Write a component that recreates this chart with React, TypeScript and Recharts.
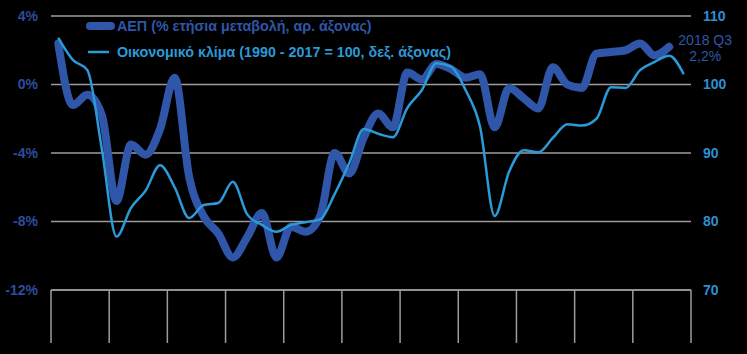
import React from 'react';
import { LineChart, Line, XAxis, YAxis, CartesianGrid, Legend, LabelList } from 'recharts';

const years = ['2008', '2009', '2010', '2011', '2012', '2013', '2014', '2015', '2016', '2017', '2018'];
const quarterNames = ['Q1', 'Q2', 'Q3', 'Q4'];
const quarters = years.flatMap((y) => quarterNames.map((q) => `${y} ${q}`));

// ΑΕΠ, % ετήσια μεταβολή (left axis), 2008 Q1 – 2018 Q3
const gdpValues = [
  2.4, -1.2, -0.6, -1.8,
  -6.8, -3.5, -4.1, -2.6,
  0.4, -5.4, -7.7, -8.7,
  -10.1, -8.9, -7.5, -10.1,
  -8.3, -8.6, -7.7, -4.0,
  -5.2, -3.1, -1.7, -2.5,
  0.7, 0.3, 1.2, 0.9,
  0.4, 0.6, -2.5, -0.2,
  -0.8, -1.4, 1.0, 0.0,
  -0.2, 1.8, 1.9, 2.0,
  2.4, 1.7, 2.2,
];

// Οικονομικό κλίμα (right axis), 2008 Q1 – 2018 Q4
const climateValues = [
  106.8, 103.6, 102.1, 90.5,
  77.8, 82.0, 84.5, 88.2,
  85.0, 80.5, 82.4, 82.7,
  85.8, 81.0, 79.5, 78.5,
  79.5, 79.9, 80.3, 84.0,
  88.5, 93.5, 92.8, 92.3,
  96.6, 99.2, 103.1, 102.6,
  99.2, 93.8, 80.8, 87.3,
  90.4, 90.1, 92.2, 94.2,
  94.0, 95.0, 99.6, 99.5,
  102.1, 103.3, 104.2, 101.5,
];

const leftTicks = [-12, -8, -4, 0, 4];
const rightTicks = [70, 80, 90, 100, 110];
const gdpName = 'ΑΕΠ (% ετήσια μεταβολή, αρ. άξονας)';
const climateName = 'Οικονομικό κλίμα (1990 - 2017 = 100, δεξ. άξονας)';
const annotationLines = ['2018 Q3', '2,2%'];

const data = quarters.map((q, i) => ({
  idx: i,
  quarter: q,
  gdp: i < gdpValues.length ? gdpValues[i] : null,
  climate: climateValues[i],
}));

const yearBoundaries = [...years.map((_, k) => k * 4 - 0.5), years.length * 4 - 0.5];

const GDP_COLOR = '#2f56a8';
const CLIMATE_COLOR = '#2b9ad9';
const LEFT_TICK_COLOR = '#2d4d9e';
const RIGHT_TICK_COLOR = '#2d8fd2';
const GRID_COLOR = '#9c9c9c';

const renderLegend = (props: any) => {
  const payload = props.payload || [];
  return (
    <div style={{ display: 'flex', flexDirection: 'column' }}>
      {payload.map((entry: any, i: number) => {
        const thick = entry.value === gdpName;
        return (
          <div key={i} style={{ display: 'flex', alignItems: 'center', height: 26 }}>
            <svg width={31} height={12} style={{ display: 'block' }}>
              <line
                x1={thick ? 4 : 2}
                x2={thick ? 25 : 23}
                y1={6}
                y2={6}
                stroke={entry.color}
                strokeWidth={thick ? 8 : 2.5}
                strokeLinecap={thick ? 'round' : 'butt'}
              />
            </svg>
            <span
              style={{
                color: thick ? GDP_COLOR : CLIMATE_COLOR,
                fontSize: 14.3,
                fontWeight: 'bold',
                whiteSpace: 'nowrap',
              }}
            >
              {entry.value}
            </span>
          </div>
        );
      })}
    </div>
  );
};

const renderAnnotation = (props: any) => {
  const { x, y, index } = props;
  if (index !== gdpValues.length - 1) return null;
  return (
    <g>
      <text x={x + 36} y={y - 2} textAnchor="middle" fill={GDP_COLOR} fontSize={14}>
        {annotationLines[0]}
      </text>
      <text x={x + 36} y={y + 14} textAnchor="middle" fill={GDP_COLOR} fontSize={14}>
        {annotationLines[1]}
      </text>
    </g>
  );
};

export default function App() {
  return (
    <div
      style={{
        position: 'absolute',
        left: 0,
        top: 0,
        width: 747,
        height: 354,
        background: '#000',
        overflow: 'hidden',
        fontFamily: '"Liberation Sans", Arial, sans-serif',
      }}
    >
      <LineChart width={747} height={354} data={data} margin={{ top: 16, right: 0, bottom: 0, left: 0 }}>
        <CartesianGrid yAxisId="left" vertical={false} stroke={GRID_COLOR} strokeWidth={1.5} />
        <XAxis
          dataKey="idx"
          type="number"
          domain={[-0.5, 43.5]}
          ticks={yearBoundaries}
          interval={0}
          height={64}
          tickSize={53}
          tickFormatter={() => ''}
          tick={{ fill: 'transparent', fontSize: 1 }}
          tickLine={{ stroke: GRID_COLOR, strokeWidth: 1.5 }}
          axisLine={{ stroke: GRID_COLOR, strokeWidth: 1.5 }}
        />
        <YAxis
          yAxisId="left"
          orientation="left"
          width={51}
          domain={[-12, 4]}
          ticks={leftTicks}
          interval={0}
          axisLine={false}
          tickLine={false}
          tickSize={6}
          tickMargin={7}
          tickFormatter={(v: number) => `${v}%`}
          tick={{ fill: LEFT_TICK_COLOR, fontSize: 14, fontWeight: 'bold' }}
        />
        <YAxis
          yAxisId="right"
          orientation="right"
          width={56}
          domain={[70, 110]}
          ticks={rightTicks}
          interval={0}
          axisLine={false}
          tickLine={false}
          tickSize={6}
          tickMargin={6}
          tick={{ fill: RIGHT_TICK_COLOR, fontSize: 14, fontWeight: 'bold' }}
        />
        <Legend
          layout="vertical"
          align="center"
          verticalAlign="middle"
          content={renderLegend}
          wrapperStyle={{ left: 86, top: 13, width: 460 }}
        />
        <Line
          yAxisId="left"
          type="monotone"
          dataKey="gdp"
          name={gdpName}
          stroke={GDP_COLOR}
          strokeWidth={8}
          strokeLinecap="round"
          strokeLinejoin="round"
          dot={false}
          activeDot={false}
          isAnimationActive={false}
        >
          <LabelList dataKey="gdp" content={renderAnnotation} />
        </Line>
        <Line
          yAxisId="right"
          type="monotone"
          dataKey="climate"
          name={climateName}
          stroke={CLIMATE_COLOR}
          strokeWidth={2.5}
          dot={false}
          activeDot={false}
          isAnimationActive={false}
        />
      </LineChart>
    </div>
  );
}
